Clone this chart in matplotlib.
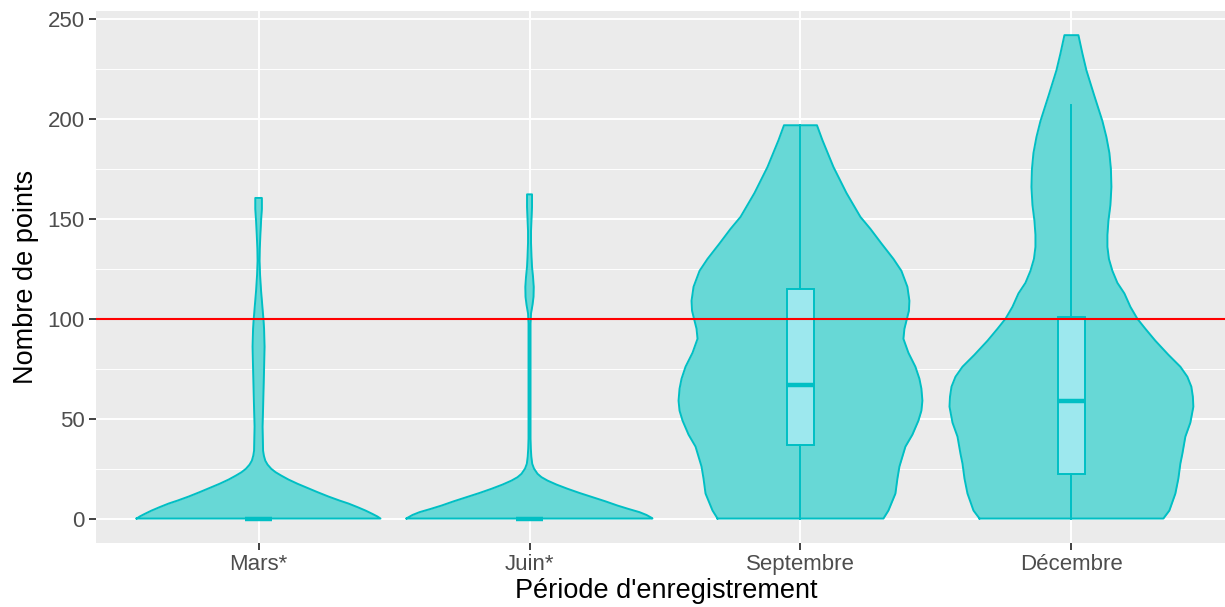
import numpy as np
import matplotlib
matplotlib.use("Agg")
import matplotlib.pyplot as plt

plt.rcParams['font.family'] = ['Liberation Sans', 'DejaVu Sans']

categories = ['Mars*', 'Juin*', 'Septembre', 'Décembre']

# violin outlines: value levels and half-width (pixels, 122 = widest)
mars_y = [0, 1, 2.3, 4, 5.7, 7.5, 9, 11, 13.2, 15.3, 17.4, 19.5, 21.5, 23.2, 24.9, 27, 29,
          31.5, 34, 39, 46, 55, 65, 75, 86, 95, 99, 105, 114, 122, 129, 135, 142, 149,
          155, 160.5]
mars_w = [122, 119, 114, 107, 99, 90, 81, 70, 59, 49, 39, 30, 22.7, 17, 12.7, 9, 6.7,
          5.3, 4.5, 4.3, 4, 4.5, 5, 5.5, 6, 5.5, 5, 4, 2.5, 1.5, 1, 1.2, 1.8, 2.5,
          3.3, 3.3]
juin_y = [0, 0.4, 1.8, 3.2, 4.8, 6.5, 8.6, 10.7, 12.8, 14.9, 17, 19, 20.7, 22.4, 25, 27.4,
          31, 35, 40, 60, 80, 97.7, 102.7, 107, 111, 116, 121, 126, 131, 138, 144, 150,
          156, 162.3]
juin_w = [123, 122, 117, 110, 99, 88, 76, 63, 50, 38, 27, 18, 12, 8, 4.5, 2.7,
          1.8, 1.3, 1, 1, 1, 1, 1.5, 3, 4, 4.2, 3.5, 2.5, 2, 1.5, 1.5, 2,
          2.5, 2.5]
sept_y = [0, 4, 12.5, 20, 26, 36, 42, 49, 54, 59, 65, 70, 76, 83, 90, 95, 99, 104, 109,
          116, 120, 124, 130, 137.7, 145, 151, 163, 176, 189.4, 196.9]
sept_w = [83, 88, 95, 97, 99, 105, 112, 118, 121, 122, 121, 119, 115, 108, 103, 104, 106,
          108.5, 109, 107, 104, 101, 93, 81, 70, 60, 46, 33, 22, 16.5]
dec_y = [0, 4, 12.5, 20, 27.5, 32.4, 41, 48, 56, 61, 66, 71, 76, 82, 89, 95, 100, 106,
         112.7, 118, 124, 130, 136, 142, 149, 157, 166, 175, 183, 191, 199, 212, 224.4,
         232.8, 242]
dec_w = [92, 98, 104, 107, 109, 111, 114, 119, 122, 121.5, 120, 116, 109, 97, 84, 74, 66,
         59, 53, 46, 41, 37.5, 36, 36, 37, 39, 40, 39.5, 38, 35, 31, 22.7, 15, 11, 7]

# box statistics: lower whisker, q1, median, q3, upper whisker
box_low = [0, 0, 0, 0]
box_q1 = [0, 0, 37, 22.5]
box_med = [0, 0, 67, 59]
box_q3 = [0, 0, 114.7, 100.9]
box_high = [0, 0, 197, 207]

threshold = 100

cyan = '#00BFC4'
violins = [(mars_y, mars_w), (juin_y, juin_w), (sept_y, sept_w), (dec_y, dec_w)]

fig = plt.figure(figsize=(12.25, 6.07), dpi=100)
ax = fig.add_axes([96 / 1225, (607 - 542.7) / 607, 1138 / 1225, (542.7 - 11) / 607])
ax.set_facecolor('#EBEBEB')

for i, (yy, ww) in enumerate(violins):
    pos = i + 1
    yy = np.array(yy)
    half = np.array(ww) / 122 * 0.45
    ax.fill_betweenx(yy, pos - half, pos + half, color='#67D8D6', lw=0, zorder=2)
    xs = np.concatenate([pos - half, (pos + half)[::-1], [pos - half[0]]])
    ys = np.concatenate([yy, yy[::-1], [yy[0]]])
    ax.plot(xs, ys, color=cyan, lw=1.4, zorder=3, solid_joinstyle='round')

stats = []
for i in range(len(categories)):
    stats.append(dict(whislo=box_low[i], q1=box_q1[i], med=box_med[i],
                      q3=box_q3[i], whishi=box_high[i], fliers=[]))
ax.bxp(stats, positions=[1, 2, 3, 4], widths=0.1, patch_artist=True,
       showcaps=False, showfliers=False, manage_ticks=False,
       boxprops=dict(facecolor='#9DE8EE', edgecolor=cyan, lw=1.4),
       whiskerprops=dict(color=cyan, lw=1.4),
       medianprops=dict(color=cyan, lw=3.2, solid_capstyle='butt'),
       zorder=4)

ax.axhline(threshold, color='red', lw=1.5, zorder=5)

ax.set_xlim(0.4, 4.6)
ax.set_ylim(-12.1, 254.1)
ax.set_yticks([0, 50, 100, 150, 200, 250])
ax.set_yticks([25, 75, 125, 175, 225], minor=True)
ax.set_xticks([1, 2, 3, 4])
ax.set_xticklabels(categories)
ax.grid(which='major', color='white', lw=1.4, zorder=0)
ax.grid(which='minor', axis='y', color='white', lw=0.7, zorder=0)
ax.set_axisbelow(True)
for s in ax.spines.values():
    s.set_visible(False)
ax.tick_params(which='major', length=5, width=1.3, color='#333333',
               labelcolor='#4D4D4D', labelsize=16, pad=3)
ax.tick_params(which='minor', length=0)

ax.set_xlabel("Période d'enregistrement", fontsize=19.5, labelpad=2)
ax.set_ylabel('Nombre de points', fontsize=19.5, labelpad=6)
ax.xaxis.label.set_x(570 / 1138)

fig.savefig('out.png', dpi=100)
